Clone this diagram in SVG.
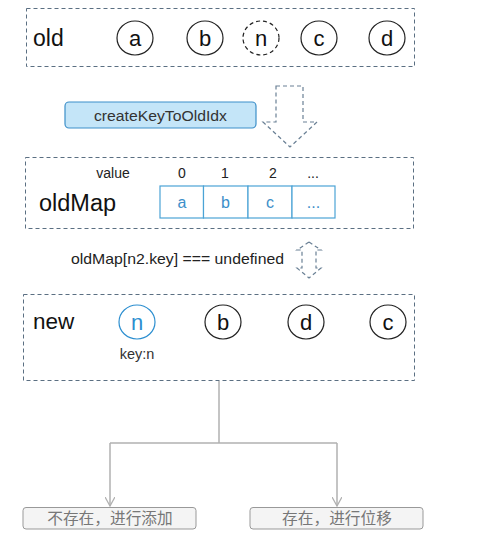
<svg xmlns="http://www.w3.org/2000/svg" width="490" height="560" viewBox="0 0 490 560">
<defs>
<style>
text{font-family:"Liberation Sans",Arial,"Noto Sans CJK SC",sans-serif;}
.frame{fill:none;stroke:#5b6f82;stroke-width:1;stroke-dasharray:4 3;}
.node{fill:#fff;stroke:#222;stroke-width:1.2;}
.lbl{font-size:22px;fill:#111;text-anchor:middle;}
.blue{stroke:#2d8fd0;}
.cell{fill:#fff;stroke:#4ba3d6;stroke-width:1.2;}
.celltxt{font-size:16px;fill:#3d8fc9;text-anchor:middle;}
.idx{font-size:14px;fill:#222;text-anchor:middle;}
.conn{fill:none;stroke:#b0b0b0;stroke-width:1.5;}
.leaf{fill:#f4f4f4;stroke:#999;stroke-width:1;}
.leaftxt{font-size:15.7px;fill:#777;text-anchor:middle;}
.darr{fill:none;stroke:#6a8095;stroke-width:1.2;stroke-dasharray:4 3;}
</style>
<marker id="open" viewBox="0 0 10 10" refX="9" refY="5" markerWidth="10" markerHeight="10" markerUnits="userSpaceOnUse" orient="auto">
<path d="M0,0 L9,5 L0,10" fill="none" stroke="#b0b0b0" stroke-width="1.3"/>
</marker>
</defs>

<g id="old">
<rect class="frame" x="26.5" y="8.5" width="388" height="58"/>
<text x="33" y="46" font-size="23" fill="#111">old</text>
<g id="old-a"><ellipse class="node" cx="135" cy="38" rx="18" ry="17"/><text class="lbl" x="135" y="46">a</text></g>
<g id="old-b"><ellipse class="node" cx="205" cy="38" rx="18" ry="17"/><text class="lbl" x="205" y="46">b</text></g>
<g id="old-n"><ellipse class="node" cx="261" cy="38" rx="18" ry="17" stroke-dasharray="4 3"/><text class="lbl" x="261" y="46">n</text></g>
<g id="old-c"><ellipse class="node" cx="319" cy="38" rx="18" ry="17"/><text class="lbl" x="319" y="46">c</text></g>
<g id="old-d"><ellipse class="node" cx="387" cy="38" rx="18" ry="17"/><text class="lbl" x="387" y="46">d</text></g>
</g>

<g id="createKeyToOldIdx">
<rect x="65" y="102" width="191" height="26" rx="4" fill="#c4e5f8" stroke="#3d8fc9" stroke-width="1.2"/>
<text x="94" y="120.5" font-size="15.5" fill="#333" textLength="133" lengthAdjust="spacingAndGlyphs">createKeyToOldIdx</text>
</g>

<g id="down-arrow">
<path class="darr" d="M276,86 L303,86 L303,122 L317,122 L290,147 L263,122 L276,122 Z"/>
</g>

<g id="oldMap">
<rect class="frame" x="25.5" y="157.5" width="388" height="71"/>
<text x="39" y="211" font-size="23.5" fill="#111">oldMap</text>
<text class="idx" x="113" y="178">value</text>
<text class="idx" x="182" y="178">0</text>
<text class="idx" x="225" y="178">1</text>
<text class="idx" x="273" y="178">2</text>
<text class="idx" x="313" y="178">...</text>
<rect class="cell" x="160" y="186" width="43.5" height="32"/>
<rect class="cell" x="203.5" y="186" width="44.5" height="32"/>
<rect class="cell" x="248" y="186" width="44" height="32"/>
<rect class="cell" x="292" y="186" width="43" height="32"/>
<text class="celltxt" x="182" y="208">a</text>
<text class="celltxt" x="225.5" y="208">b</text>
<text class="celltxt" x="270" y="208">c</text>
<text class="celltxt" x="313.5" y="208">...</text>
</g>

<g id="condition">
<text x="71" y="263.5" font-size="15" fill="#222" textLength="213" lengthAdjust="spacingAndGlyphs">oldMap[n2.key] === undefined</text>
<path class="darr" d="M309,242 L321,250 L316,250 L316,268 L321,268 L309,278 L297,268 L302,268 L302,250 L297,250 Z"/>
</g>

<g id="new">
<rect class="frame" x="23.5" y="294.5" width="391" height="86"/>
<text x="33" y="329" font-size="22.5" fill="#111">new</text>
<g id="new-n"><ellipse class="node blue" cx="137" cy="322" rx="18" ry="17"/><text class="lbl" x="137" y="330" style="fill:#2d8fd0">n</text><text x="137" y="359" font-size="14.5" fill="#333" text-anchor="middle">key:n</text></g>
<g id="new-b"><ellipse class="node" cx="223" cy="322" rx="18" ry="17"/><text class="lbl" x="223" y="330">b</text></g>
<g id="new-d"><ellipse class="node" cx="306" cy="322" rx="18" ry="17"/><text class="lbl" x="306" y="330">d</text></g>
<g id="new-c"><ellipse class="node" cx="388" cy="322" rx="18" ry="17"/><text class="lbl" x="388" y="330">c</text></g>
</g>

<g id="connectors">
<path class="conn" d="M219,381 L219,443"/>
<path class="conn" d="M110,443 L337,443"/>
<path class="conn" d="M110,443 L110,506" marker-end="url(#open)"/>
<path class="conn" d="M337,443 L337,506" marker-end="url(#open)"/>
</g>

<g id="not-exist">
<rect class="leaf" x="23" y="507.5" width="173" height="21.5" rx="3"/>
<text class="leaftxt" x="110" y="524">不存在，进行添加</text>
</g>
<g id="exist">
<rect class="leaf" x="250" y="507.5" width="173" height="21.5" rx="3"/>
<text class="leaftxt" x="337" y="524">存在，进行位移</text>
</g>
</svg>
